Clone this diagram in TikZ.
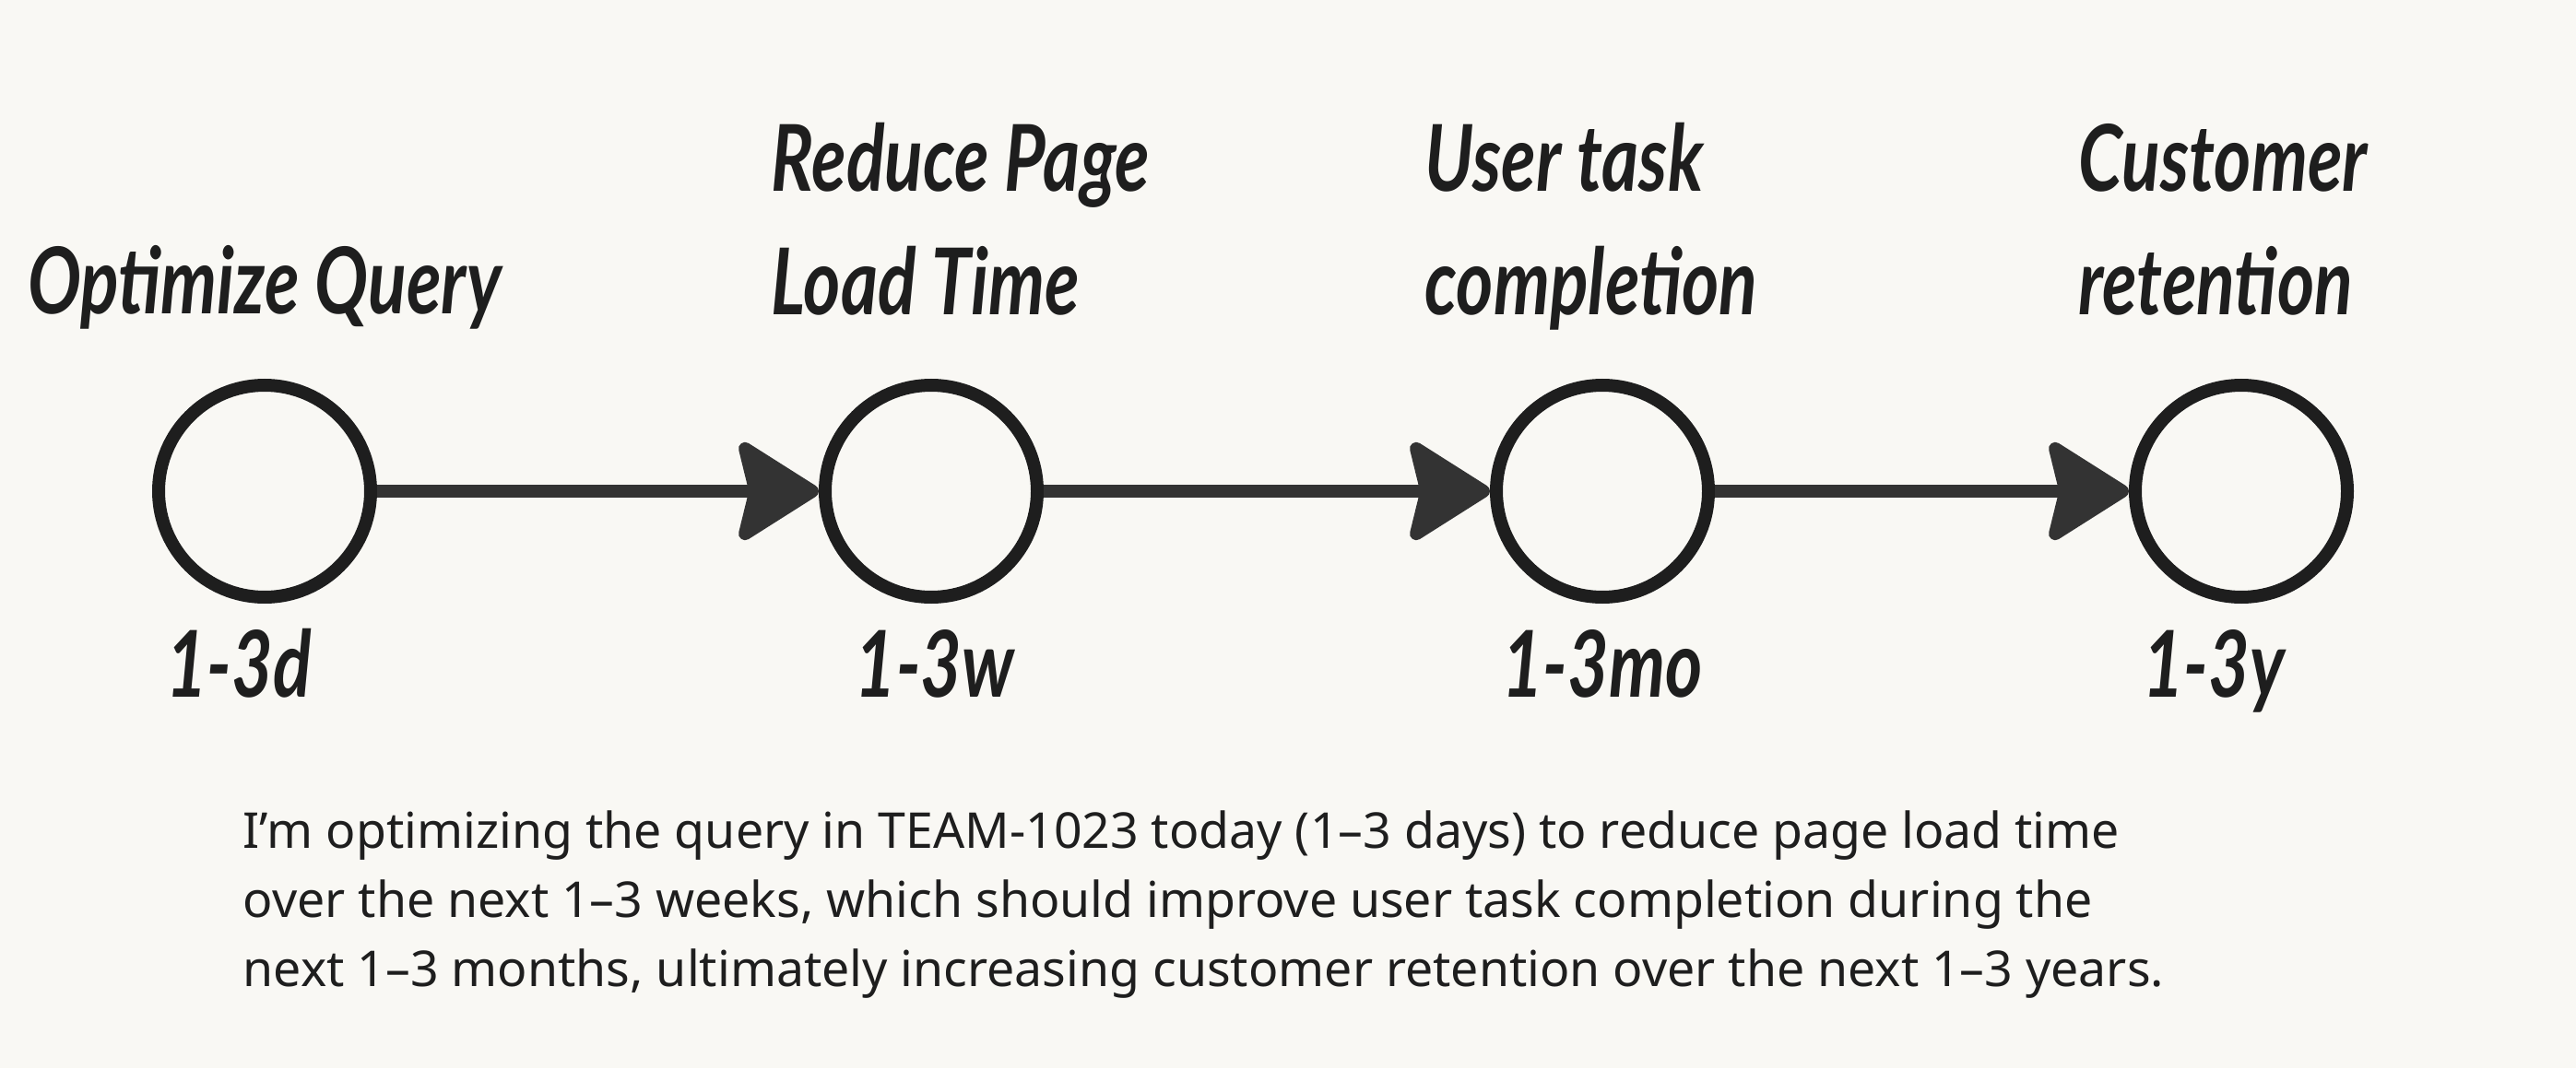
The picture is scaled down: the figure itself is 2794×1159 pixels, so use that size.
\documentclass[tikz,border=0pt]{standalone}
\usepackage{fontspec}
\setmainfont{Noto Sans}
\newfontfamily\handfont[FakeStretch=0.77]{Lato}
\usetikzlibrary{arrows.meta,positioning}

\definecolor{paper}{HTML}{F9F8F4}
\definecolor{ink}{HTML}{1E1E1E}
\definecolor{wire}{HTML}{333333}

\tikzset{
  stage/.style={circle,draw=ink,line width=3.5pt,minimum size=57.5pt,inner sep=0pt},
  hand/.style={font=\handfont\bfseries\itshape\fontsize{25}{33.5}\selectfont,text=ink,align=left,inner sep=0pt},
  desc/.style={font=\fontsize{13.4}{18.75}\selectfont,text=ink,align=left,inner sep=0pt},
  link/.style={color=wire,line width=3.5pt,-{Stealth[length=24pt,width=30pt,inset=3.5pt,round]}}
}

\begin{document}
\begin{tikzpicture}[x=0.25pt,y=0.25pt,on grid]
	\fill[paper] (0,0) rectangle (2794,1159);
	% the four horizons
	\node[stage] (o) at (287,626) {};
	\node[stage] [right=180.75pt of o] (r) {};
	\node[stage] [right=182pt of r] (u) {};
	\node[stage] [right=173.25pt of u] (c) {};
	% what happens
	\node[hand] [above=48pt of o,anchor=base] (o_top) {Optimize Query};
	\node[hand] [above=48pt of r,anchor=base,xshift=8pt] (r_top) {Reduce Page\\Load Time};
	\node[hand] [above=48pt of u,anchor=base,xshift=-3pt] (u_top) {User task\\completion};
	\node[hand] [above=48pt of c,anchor=base,xshift=-5pt] (c_top) {Customer\\retention};
	% how long
	\node[hand] [below=55.75pt of o,anchor=base,xshift=-7pt] (o_time) {1-3d};
	\node[hand] [below=55.75pt of r,anchor=base,xshift=1pt] (r_time) {1-3w};
	\node[hand] [below=55.75pt of u,anchor=base] (u_time) {1-3mo};
	\node[hand] [below=55.75pt of c,anchor=base,xshift=-7.5pt] (c_time) {1-3y};
	\path[link]
		(o) edge (r)
		(r) edge (u)
		(u) edge (c);
	\node[desc,anchor=base west] (note) at (263,89) {I’m optimizing the query in TEAM-1023 today (1–3 days) to reduce page load time\\over the next 1–3 weeks, which should improve user task completion during the\\next 1–3 months, ultimately increasing customer retention over the next 1–3 years.};
\end{tikzpicture}
\end{document}
